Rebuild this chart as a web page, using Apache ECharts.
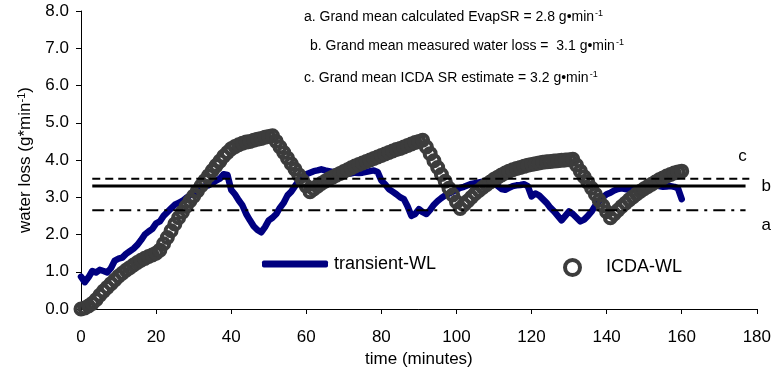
<!DOCTYPE html>
<html>
<head>
<meta charset="utf-8">
<script src="https://cdn.jsdelivr.net/npm/echarts@6/dist/echarts.min.js"></script>
<style>
  html, body { margin: 0; padding: 0; background: #fff; }
  #chart { width: 774px; height: 375px; }
</style>
</head>
<body>
<div id="chart"></div>
<script>
// transient water loss, one reading per minute from t = 0
const transientWL = [
  0.87, 0.72, 0.85, 1.02, 0.98, 1.05, 1.02, 0.98, 1.1, 1.3,
  1.35, 1.38, 1.48, 1.55, 1.62, 1.72, 1.85, 2.0, 2.08, 2.15,
  2.3, 2.35, 2.5, 2.6, 2.7, 2.8, 2.85, 2.9, 2.98, 3.05,
  3.1, 3.15, 3.22, 3.3, 3.32, 3.38, 3.45, 3.5, 3.62, 3.6,
  3.2, 3.08, 2.92, 2.78, 2.55, 2.38, 2.22, 2.12, 2.06, 2.2,
  2.38, 2.45, 2.55, 2.72, 2.85, 3.05, 3.15, 3.3, 3.45, 3.55,
  3.62, 3.66, 3.7, 3.72, 3.75, 3.72, 3.7, 3.68, 3.66, 3.65,
  3.66, 3.65, 3.64, 3.66, 3.65, 3.66, 3.68, 3.7, 3.72, 3.68,
  3.45, 3.35, 3.22, 3.15, 3.08, 3.0, 2.95, 2.75, 2.5, 2.55,
  2.68, 2.6, 2.55, 2.66, 2.8, 2.9, 2.98, 3.05, 3.1, 3.15,
  3.2, 3.25, 3.28, 3.32, 3.36, 3.38, 3.4, 3.42, 3.43, 3.42,
  3.38, 3.3, 3.22, 3.2, 3.25, 3.3, 3.32, 3.33, 3.35, 3.3,
  3.02, 3.1, 3.05, 2.95, 2.85, 2.72, 2.62, 2.5, 2.38, 2.5,
  2.62, 2.55, 2.45, 2.35, 2.4, 2.5, 2.62, 2.78, 2.9, 3.0,
  3.08, 3.12, 3.18, 3.22, 3.24, 3.22, 3.2, 3.2, 3.2, 3.22,
  3.26, 3.3, 3.32, 3.33, 3.3, 3.28, 3.29, 3.3, 3.28, 3.24,
  2.95
]

// ICDA estimate, one reading per minute from t = 0
const icdaWL = [
  0.0, 0.03, 0.08, 0.15, 0.25, 0.37, 0.48, 0.58, 0.68, 0.78,
  0.88, 0.96, 1.04, 1.11, 1.18, 1.25, 1.31, 1.36, 1.41, 1.45,
  1.5, 1.58, 1.75, 1.92, 2.1, 2.28, 2.45, 2.6, 2.75, 2.9,
  3.03, 3.17, 3.31, 3.45, 3.58, 3.72, 3.85, 3.97, 4.1, 4.2,
  4.3, 4.36, 4.41, 4.45, 4.48, 4.5, 4.53, 4.56, 4.58, 4.61,
  4.63, 4.65, 4.5, 4.35, 4.2, 4.05, 3.9, 3.75, 3.6, 3.45,
  3.3, 3.15, 3.22, 3.3, 3.37, 3.43, 3.49, 3.54, 3.59, 3.64,
  3.69, 3.74, 3.79, 3.84, 3.88, 3.92, 3.96, 4.0, 4.04, 4.08,
  4.12, 4.16, 4.2, 4.24, 4.28, 4.31, 4.35, 4.39, 4.43, 4.47,
  4.5, 4.53, 4.35, 4.17, 3.98, 3.8, 3.61, 3.43, 3.24, 3.06,
  2.88, 2.7, 2.8, 2.9, 3.0, 3.1, 3.18, 3.26, 3.34, 3.41,
  3.48, 3.54, 3.6, 3.65, 3.7, 3.74, 3.77, 3.8, 3.83, 3.86,
  3.88, 3.9, 3.92, 3.94, 3.95, 3.96, 3.97, 3.98, 3.99, 4.0,
  4.01, 4.02, 3.86, 3.7, 3.55, 3.4, 3.24, 3.08, 2.92, 2.77,
  2.61, 2.45, 2.55, 2.65, 2.75, 2.84, 2.93, 3.01, 3.09, 3.16,
  3.23, 3.29, 3.35, 3.41, 3.47, 3.52, 3.57, 3.61, 3.65, 3.68,
  3.7
]

// grand mean reference lines
const refNames = ['c', 'b', 'a']
const refValues = [3.5, 3.3, 2.65]
const refStart = [3, 3, 3]
const refEnd = [178, 177, 177]

const xTicks = { min: 0, max: 180, interval: 20 }
const yTicks = { min: 0, max: 8, interval: 1 }

const notes = [
  'a. Grand mean calculated EvapSR = 2.8 g\u2022min',
  'b. Grand mean measured water loss =  3.1 g\u2022min',
  'c. Grand mean ICDA SR estimate = 3.2 g\u2022min',
]

const FONT = '"Liberation Sans", Arial, sans-serif'
const NAVY = '#000080'
const GREY = '#3c3c3c'

const chart = echarts.init(document.getElementById('chart'), null, { renderer: 'canvas' })

const refStyles = [
  { type: [8, 5], width: 2 },
  { type: 'solid', width: 3 },
  { type: [12, 6, 3, 6], width: 2 },
]
const refLabelOffsets = [[-19, -22], [8, 0], [8, 15]]

const refSeries = refValues.map((v, i) => ({
  name: 'ref-' + refNames[i],
  type: 'line',
  data: [[refStart[i], v], [refEnd[i], v]],
  symbol: 'none',
  silent: true,
  z: 5,
  lineStyle: { color: '#000', width: refStyles[i].width, type: refStyles[i].type },
  endLabel: {
    show: true,
    formatter: refNames[i],
    color: '#000',
    fontFamily: FONT,
    fontSize: 17,
    offset: refLabelOffsets[i],
  },
}))

const noteTops = [9, 38, 70]
const noteLefts = [304, 310, 304]

const option = {
  animation: false,
  backgroundColor: '#fff',
  textStyle: { fontFamily: FONT },
  grid: { left: 81, right: 15, top: 11, bottom: 66 },
  xAxis: {
    type: 'value',
    min: xTicks.min,
    max: xTicks.max,
    interval: xTicks.interval,
    name: 'time (minutes)',
    nameLocation: 'middle',
    nameGap: 37,
    nameTextStyle: { color: '#000', fontSize: 17, fontFamily: FONT },
    axisLine: { lineStyle: { color: '#000', width: 1 } },
    axisTick: { show: true, length: 5, lineStyle: { color: '#000' } },
    axisLabel: { color: '#000', fontSize: 17, fontFamily: FONT, margin: 20 },
    splitLine: { show: false },
  },
  yAxis: {
    type: 'value',
    min: yTicks.min,
    max: yTicks.max,
    interval: yTicks.interval,
    name: 'water loss (g*min{sup|-1})',
    nameLocation: 'middle',
    nameGap: 47,
    nameRotate: 90,
    nameTextStyle: {
      color: '#000', fontSize: 17, fontFamily: FONT,
      rich: { sup: { fontSize: 11, color: '#000', fontFamily: FONT, verticalAlign: 'top', padding: [0, 0, 7, 0] } },
    },
    axisLine: { show: true, lineStyle: { color: '#000', width: 1 } },
    axisTick: { show: true, length: 5, lineStyle: { color: '#000' } },
    axisLabel: {
      color: '#000', fontSize: 17, fontFamily: FONT, margin: 12,
      formatter: (v) => v.toFixed(1),
    },
    splitLine: { show: false },
  },
  legend: [
    {
      left: 262,
      top: 255,
      padding: 0,
      itemWidth: 66,
      itemHeight: 7,
      textStyle: { color: '#000', fontSize: 18, fontFamily: FONT, padding: [2, 0, 0, 1] },
      data: [{ name: 'transient-WL', icon: 'roundRect', itemStyle: { color: NAVY } }],
    },
    {
      left: 563,
      top: 258,
      padding: 0,
      itemWidth: 15,
      itemHeight: 15,
      textStyle: { color: '#000', fontSize: 18, fontFamily: FONT, padding: [0, 0, 0, 21] },
      data: [{
        name: 'ICDA-WL',
        icon: 'circle',
        itemStyle: { color: 'rgba(0,0,0,0)', borderColor: GREY, borderWidth: 4 },
      }],
    },
  ],
  graphic: notes.map((t, i) => ({
    type: 'text',
    left: noteLefts[i],
    top: noteTops[i],
    style: {
      text: t + '{sup|-1}',
      fill: '#000',
      font: '14px ' + FONT,
      rich: {
        sup: { fontSize: 9, fill: '#000', fontFamily: FONT, verticalAlign: 'top', padding: [0, 0, 7, 1] },
      },
    },
  })),
  series: [
    {
      name: 'transient-WL',
      type: 'line',
      data: transientWL.map((v, i) => [i, v]),
      symbol: 'none',
      z: 2,
      lineStyle: { color: NAVY, width: 6.5, cap: 'round', join: 'round' },
      itemStyle: { color: NAVY },
    },
    {
      name: 'ICDA-WL',
      type: 'scatter',
      data: icdaWL.map((v, i) => [i, v]),
      symbol: 'circle',
      symbolSize: 11,
      clip: false,
      z: 3,
      itemStyle: { color: 'rgba(0,0,0,0)', borderColor: GREY, borderWidth: 4, opacity: 1 },
    },
    ...refSeries,
  ],
}

chart.setOption(option)
</script>
</body>
</html>
